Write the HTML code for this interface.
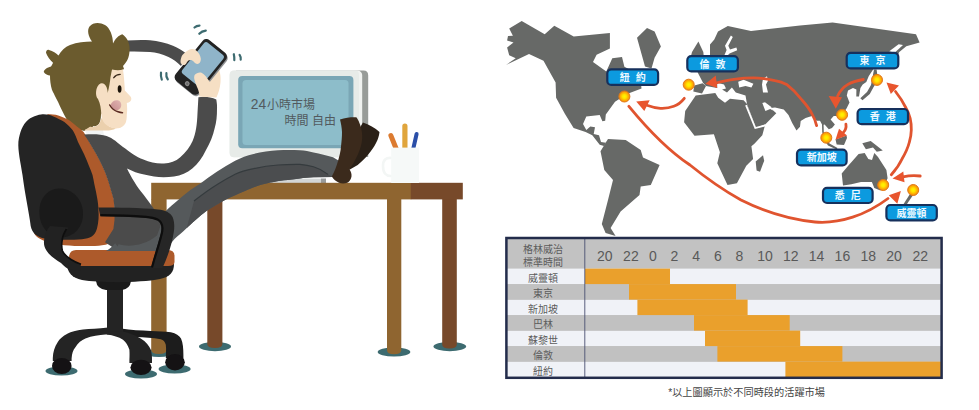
<!DOCTYPE html>
<html lang="zh-Hant">
<head>
<meta charset="utf-8">
<title>24小時市場</title>
<style>
html,body{margin:0;padding:0;background:#fff;}
body{width:979px;height:410px;overflow:hidden;position:relative;font-family:"Liberation Sans","Noto Sans CJK TC",sans-serif;}
svg{position:absolute;left:0;top:0;display:block;}
text{font-family:"Liberation Sans","Noto Sans CJK TC",sans-serif;}
.lbl rect{fill:#0c9adf;stroke:#16305c;stroke-width:2.2;}
.lbl text{fill:#eef9ff;font-weight:700;font-size:10px;text-anchor:middle;word-spacing:3.2px;}
.arr{fill:none;stroke:#e0542f;stroke-width:2.8;stroke-linecap:round;}
.ah{fill:#e8552e;}
.map{fill:#676967;}
.tt{fill:#5c5c5c;font-size:10px;text-anchor:middle;}
.th{fill:#595959;font-size:14px;text-anchor:middle;}
</style>
</head>
<body>
<svg width="979" height="410" viewBox="0 0 979 410">
<defs>
<radialGradient id="dot" cx="50%" cy="50%" r="50%">
<stop offset="0" stop-color="#fff600"/><stop offset="0.35" stop-color="#ffe400"/><stop offset="0.7" stop-color="#ffb000"/><stop offset="1" stop-color="#f0861a"/>
</radialGradient>
<linearGradient id="mouth" x1="0" y1="1" x2="1" y2="0"><stop offset="0" stop-color="#c48a8c"/><stop offset="1" stop-color="#e2b6b2"/></linearGradient>
</defs>
<rect width="979" height="410" fill="#fff"/>

<!-- ===== ILLUSTRATION ===== -->
<g id="illus">
<!-- shadows -->
<g fill="#3d6b70">
<ellipse cx="61.5" cy="371" rx="16" ry="4.6"/>
<ellipse cx="141" cy="374" rx="16" ry="4.6"/>
<ellipse cx="174.6" cy="369" rx="16" ry="4.6"/>
<ellipse cx="159" cy="353" rx="14" ry="4"/>
<ellipse cx="215" cy="346.6" rx="16" ry="4.6"/>
<ellipse cx="394" cy="352" rx="16.3" ry="4.6"/>
<ellipse cx="449.8" cy="346.6" rx="16.3" ry="4.6"/>
</g>
<!-- desk far legs -->
<path d="M207.3 195 H222.4 V344 Q222.4 348 215 348 Q207.3 348 207.3 344 Z" fill="#77492a"/>
<path d="M442.2 195 H456.8 V344.5 Q456.8 348.5 449.5 348.5 Q442.2 348.5 442.2 344.5 Z" fill="#77492a"/>
<!-- monitor -->
<path d="M236 70.6 H363.5 Q368.2 70.6 368.2 75.5 V157 H236 Z" fill="#989c99"/>
<rect x="229.6" y="70.6" width="132.6" height="86.6" rx="4.5" fill="#f0f2f0"/>
<path d="M234 70.6 H355 Q359 70.6 359 75 V157.2 H234 Q229.6 157.2 229.6 152.7 V75 Q229.6 70.6 234 70.6 Z" fill="#e7ebe8"/>
<rect x="270.6" y="178.6" width="55.4" height="4.6" fill="#d3d6d6"/>
<rect x="321" y="178.6" width="5" height="4.6" fill="#9a9c9c"/>
<rect x="238.2" y="76" width="115.2" height="72.2" rx="4" fill="#7aa6b5"/>
<rect x="242.5" y="80" width="106" height="65" rx="3.5" fill="#8dbdca"/>
<text x="250.8" y="109.2" font-size="12" fill="#525a5e"><tspan font-size="13.8">24</tspan><tspan x="266.9">小時市場</tspan></text>
<text x="284.6" y="125.3" font-size="12" fill="#525a5e">時間 自由</text>
<!-- desk top -->
<rect x="151.2" y="182.8" width="260" height="16.6" fill="#8f6530"/>
<rect x="410.8" y="182.8" width="52" height="16.6" fill="#77492a"/>
<!-- near legs -->
<path d="M151.2 199 H166.6 V350 Q166.6 354 159 354 Q151.2 354 151.2 350 Z" fill="#8f6530"/>
<path d="M387 199 H401.3 V350 Q401.3 354.3 394 354.3 Q387 354.3 387 350 Z" fill="#8f6530"/>
<!-- cup & pencils -->
<g fill="none" stroke-linecap="round">
<path d="M390.9 135.6 L396.3 149" stroke="#dc7b30" stroke-width="5"/>
<path d="M404.9 126 L404.9 149" stroke="#e0a53c" stroke-width="5.2"/>
<path d="M416.6 134 L413.2 149" stroke="#2b4fa8" stroke-width="4"/>
<path d="M391.5 158 Q383 157 383 166 Q383 176.5 391.5 176" stroke="#f3f6f5" stroke-width="2.6"/>
</g>
<rect x="391.2" y="147.6" width="27.8" height="35.4" fill="#f6f9f8"/>

<!-- chair base -->
<g fill="#242424">
<path d="M121 328.5 C131 330 141 330.6 150.8 330.9 C158 331.1 165 331.3 170.9 332.2 C176 333.3 179.3 335.5 181 338.6 C183 343 183.4 349 183.4 354.7 L183.4 358 L165.8 358 C166 353 166.3 348.5 165.8 344.7 C165 341.5 163.3 340 160.8 339.2 C153 337.8 144 337.4 135.7 337 L121 336 Z" fill="#1c1c1c"/>
<rect x="107" y="284" width="16" height="50"/>
<path d="M96 281 H131 Q130 289 122 290 H106 Q97 289 96 281 Z" fill="#1a1a1a"/>
<path d="M108 327.6 C98 328.8 90 329 83 329.6 C76 330.5 71 332 67.8 333.4 C62.5 336 59.5 339 57.8 342 C54.5 347 53 352 52.8 358 L52.8 361 L71.6 361 L71.6 358.5 C72 353.5 73 350 75.4 347.2 C78 342.8 81.5 340 85.4 338.4 C92 336 99 335 105.5 334.6 L114 334.6 Z"/>
<path d="M107 331 L123 331.5 C131 333.3 136 335.8 140.7 338.4 C146 341.5 149.5 346 150.8 349.7 C151.6 353 152 356 152 358 L152 363 L129.4 363 L129.4 359.8 C129.6 356 129.6 353 129.4 349.7 C128 345.5 126 342 123 339.7 C118.5 337 113.5 335.5 107 334.6 Z"/>
</g>
<g fill="#141214">
<ellipse cx="61.8" cy="366" rx="9.8" ry="8"/>
<ellipse cx="141" cy="367.4" rx="10.6" ry="7.6"/>
<ellipse cx="175" cy="362.2" rx="9.8" ry="8.2"/>
</g>

<!-- upper arm over head + hair -->
<path d="M127 40.5 C135 40 142 39.8 150 40.2 C158 40.7 166 43 173 45.8 C178 48 183 51 187 54 L181 66 C177 62 173 59 168.5 57 C162 54 156 52.5 150 52 C143 51.5 136 51.3 128 51.5 Z" fill="#4b4b4b"/>
<path d="M92 41.5 C88 36 87 30 89.5 26.5 C93 22 100 22 105 25 C110 28 113 36 113 43.5 C115 39 119 35 122.3 34.2 C126 36.5 129 41 129.5 47 C130 55 128 61 123 66 L124 69 C120 71.5 116 71.5 112 70.5 L111 100 L101 114.5 C101 119 100 122.5 98.6 124.3 C97 126 95 126.6 93.5 126 C92.5 127.5 91 128.2 89.5 127.8 L84.5 131 L76 129 L66.8 119.4 C63 113 60.5 107.5 58.2 102.3 C55 96 53 92 52 90 C50.5 85 50 80 50 75.5 C48 75.5 45 74 43.8 72 C44 69.5 47 67.5 51 66.5 C52 65 52.5 64 53 62.7 C50 60 47 56 46 52.7 C46.3 50 47.5 49.5 49 50 C53 51 56 53 58.5 55.5 C61 51 65 47 70 45 C77 42 85 41.5 92 41.5 Z" fill="#6b5b2e"/>
<!-- chair back -->
<path d="M47.3 114.3 C51 114.3 55 114.6 58.3 115.4 C62 116.5 65 118 68 119.6 C71 121.5 74 124 76.6 126.3 C79 128 81.5 130 83.6 132 C86 135.5 88 139 89.7 142.5 C92 146.5 94.5 150.5 96.8 154.4 C99 158.5 101 162.5 102.9 166.6 C104.7 170.6 106.3 174.7 107.8 178.8 C108.5 180.5 109 182.3 109.5 184 C111 189 112.5 194 113.8 198.8 C114.6 204 115 210 115 216 C115.2 226 115 234 113 239 C111 243 107 245 102 245.2 C92 246.8 60 246.6 47 242 C40 239.5 36 237 34 233 L60 180 Z" fill="#ad5a2b"/>
<path d="M41 114.5 C46 114 50 115 53.4 116.6 C57.5 118.5 61 120 64.4 122 C67.5 124.5 70.5 127.5 72.9 130.6 C75 134 76.5 138 78 142 C80 146 82 150 84 154 C85.8 158 87.5 162 89 166 C90.3 169 91.5 172 92.5 175 C93.2 178 93.8 181 94.3 184 C95.5 189 96.5 194 97.3 198.8 C98 203 98.4 207 98.4 210 C99 216 98.6 222 97 228.5 C95 236 90 238.5 82 239.2 C70 240 55 240 45 238.5 C37 237.3 32 233 30.7 226 C29 212 25 195 22.5 175 C20.5 162 17.8 151 18.4 141.8 C19 137 20 133 21.4 129.5 C23 125.5 25.3 122.3 28.2 119.7 C30.8 117.5 33.7 116.2 36.8 115.4 C38.3 115 39.7 114.7 41 114.5 Z" fill="#242424"/>
<path d="M59 188.5 C71 188 82.5 198 83 213 C83.3 227 74 237 62 237.3 C49 237.5 39.5 227 39.3 212 C39.2 199 47 189 59 188.5 Z" fill="#1a1a1a"/>

<!-- seat -->
<path d="M67 264 H174 C174 272 170 277 160 279 C140 283 100 283 82 280 C72 278 67 272 67 264 Z" fill="#222"/>
<path d="M76 250 H168 Q174.5 250 174.5 256 V262 Q174.5 266 168 266 H76 Q69 266 69 258 Q69 250 76 250 Z" fill="#ad5a2b"/>

<!-- body -->
<path d="M85 129.8 L103 129.8 L104 135.5 L87 136 Z" fill="#f1f3f3"/>
<!-- torso -->
<path d="M84 134.6 C95 134 101 134.5 106.6 135.9 C113 138 118 143 123 147 C130 152 136 157 143.4 159.4 C150 162 157 164 164 163.5 C170 163 176 161 180 157.4 C186 152 190 147 192.6 141 C196 133 197 125 197.5 113 L198.4 97.2 C204 96 211 96.8 216.3 99.4 C217 104 217.2 106 217 108.5 C217 116 216.5 122 214.6 128.5 C213 136 210 143 206 150 C202 158 198 164 192.3 168.5 C187 173 181 175.5 174 176.5 C167 177.5 160 177.5 154 176.5 C147 175.5 141 174 135.4 172.3 L127 168.6 C131 177 137 187 143.4 194.6 C148 201 152 206 156 212 L164 225 L162 247 L116 249.6 L105 242.2 L113.4 229 L114.5 220 C114.8 213 114.4 205 113.4 198.8 C112 194 110.6 189 109.1 184 C108.6 182.3 108 180.5 107.4 178.8 C106 174.7 104.3 170.6 102.5 166.6 C100.6 162.5 98.6 158.5 96.4 154.4 C94.1 150.5 91.6 146.5 89.3 142.5 C87.6 139.5 85.8 136.8 84 134.6 Z" fill="#4b4b4b"/>
<!-- pants -->
<path d="M115.2 243.2 L117.5 246.6 L118.6 244.2 C128 247.2 144 246.2 157 235.5 L166 210.8 C170 207 173.5 204 177 201 C181.5 197 186 193.5 190.4 190 C193.5 187.8 196.5 186 199.6 184 C205 180 211 175.5 216.8 171.8 C223 167.8 229 164 235.1 160.7 C241 157.8 247 155.6 253.5 154 C261 152 270 150.8 278 150.3 C285 150 293 150 300 150.3 C305 150.7 309 151.5 313.5 152.4 C320 153.6 327 155.3 333 157.3 L339.3 161 L338 170 L333 177 L313.5 177.2 C308 177.4 304 177.8 300 178.4 C295 179 289 179.6 284 180.3 C279 181 275 181.7 270.6 182.6 C266 183.6 262 184.6 258 185.8 C253 187.4 249 189 245 191 C241.5 192.5 238.5 193.8 235.8 195 C231 197 226.5 199 222.3 201.5 C217.5 204 213 206.8 208.8 209.6 C205 212 202 214.5 199 217 C195 220.5 191 224 186.8 228 C182.5 232 178.5 235.5 174.5 239 C171 243 168 247 165 251 L106 251 C110 248.6 113 246 115.2 243.2 Z" fill="#55595b"/>
<path d="M186.8 228 C189 219 192 209 194 201 C201 195.5 209 189.5 218 184 C224 180.5 229.5 177 235.1 174.2 C241 171.5 247 170 253.5 168.7 C261 167 270 165.6 278 165 C285 164.5 293 164.3 300 164.4 C305 164.8 309.5 165.6 313.5 166.8 C319 168.4 324 171.3 328 174.4 L333 177 L313.5 177.2 C308 177.4 304 177.8 300 178.4 C295 179 289 179.6 284 180.3 C279 181 275 181.7 270.6 182.6 C266 183.6 262 184.6 258 185.8 C253 187.4 249 189 245 191 C241.5 192.5 238.5 193.8 235.8 195 C231 197 226.5 199 222.3 201.5 C217.5 204 213 206.8 208.8 209.6 C205 212 202 214.5 199 217 C195 220.5 191 224 186.8 228 Z" fill="#4b4d4f"/>
<path d="M194 201 C201 195.5 209 189.5 218 184 C224 180.5 229.5 177 235.1 174.2 C241 171.5 247 170 253.5 168.7 C261 167 270 165.6 278 165 C285 164.5 293 164.3 300 164.4 C305 164.8 309.5 165.6 313.5 166.8 C319 168.4 324 171.3 328 174.4" fill="none" stroke="#353b3e" stroke-width="1.2"/>
<!-- shoes -->
<path d="M362.9 122.6 C369 124.5 375 128 379.5 132 C379 136 378 139.5 376.4 142.3 C374 147 371.5 151 368 154.8 C365 158.5 361.5 162 357.7 165 L349 170 L353 140 Z" fill="#2a2017"/>
<path d="M340 119.5 C345.5 117.8 351 117.2 356.7 117.4 C359.5 122 361.3 127 361.9 132 C362.6 137 362.2 142 360.8 146.5 C359.5 151 357.8 155.2 355.6 159 C353.8 162.8 351.7 166.2 349.4 169.3 C351 171.5 351.8 174 351.5 176.6 C351 179.5 349.5 181.8 347.3 182.8 C344.5 183.8 341.5 183.8 339 182.8 C336 181.5 333.5 179.3 331.8 176.6 C334.5 171.5 336.5 166.5 338 161 C339.5 156 340.6 151.5 341 146.5 C341.6 141.5 342 137 342 132 C341.8 127.5 341 123.5 340 119.5 Z" fill="#3b2a1c"/>
<!-- armrest -->
<path d="M50 226 L68.5 227.6 C65.5 231 63 235 62.4 239 C61.5 243 61.5 247 62.4 250.7 C64 254.5 67 257 71 259.5 C74 261.5 77.5 263 81 264.2 L80 271 C75 270.5 71.5 269.8 68 268.8 C65 267 63 265 61 263 C55.5 259.5 49.5 255.5 46.6 250.7 C44.5 247.5 43.7 244.5 44 241 C44.3 235.5 46.5 230 50 226 Z" fill="#222"/>
<path d="M66.5 229 C64 233 62.6 236 62.4 239 C61.5 243 61.5 247 62.4 250.7 C64 254.5 67 257 71 259.5 C74 261.5 77.5 263 81 264.2" fill="none" stroke="#0e0e0e" stroke-width="1.6"/>
<path d="M98.4 207.6 C118 207.6 140 207.9 158 209.4 C165 210 170.5 212.6 172.6 216.9 C174.5 221.5 174.6 227 173.8 232 C172 244 168 256 162.5 268 L151 268 C154 256 158 245 160.8 233.5 C162.3 227.5 162 222.8 157.5 220.4 C154 218.7 150 218.1 146 217.8 C130 216.8 115 216.4 100.4 216.2 Z" fill="#262626"/>
<path d="M100.4 215.2 C115 215.4 130 215.8 146 216.8 C150 217.1 154 217.7 157.5 219.4 C162 221.8 163.3 227 161.8 233.5 C159 245 155 256 152 267.5" fill="none" stroke="#0d0d0d" stroke-width="2.2"/>
<!-- face -->
<path d="M90 126.8 C94 127.3 97.5 126 99.5 123.5 L101.5 118 L109.7 126.8 L116 128.6 C113 130 110 130.6 106 130.6 L84 130.6 Z" fill="#ebd0ad"/>
<path d="M112 69.5 C116 70.5 120 70.5 123 69.5 C124 77 124.6 84 124.8 90.5 C126.5 92.6 129.5 95 130.9 97 C132 99.2 131 101.6 128.6 102.4 C127.8 102.7 127.2 102.8 126.8 103 C126.9 104 127 105 127 106 C127.3 109 127.2 112 126.8 114.5 C126.8 118 126.5 120.5 125.6 123 C124 126 121.5 127.8 118.2 128.3 C115 128.6 112 128 109.7 126.8 C107 125.5 105 124 103.5 121.9 C102 119.5 101.6 117 101.3 114.5 C101 109 100.5 104 98 99 C95 96 95.5 88 99 84.5 C102 82 105 84 106.5 87 C107.5 90 107.8 92 107.7 93 C109 88 110 82 110.5 77 Z" fill="#f6dfc4"/>
<ellipse cx="119.6" cy="89" rx="1.9" ry="3.7" fill="#1a1208"/>
<path d="M113.8 77.7 Q116 74.6 120.2 74.4" fill="none" stroke="#3b2a1c" stroke-width="1.4" stroke-linecap="round"/>
<path d="M110.6 104.8 C111.6 101.3 115 99.6 118 100.3 C120.8 101.2 121.8 104 121 106.8 C120.2 109.4 118 110.6 115.6 110.2 C113.4 109.2 111.6 107.3 110.6 104.8 Z" fill="url(#mouth)"/>
<path d="M109.7 105 C111.5 108.2 115 110.8 118 111.8 C119.5 112.3 121 112.6 122.5 112.7" fill="none" stroke="#5a2a22" stroke-width="1.5" stroke-linecap="round"/>
<!-- lower hand -->
<path d="M217 66 C220 70 221 76 220.5 82.2 C220 88 218.5 93 216.4 97.5 L199 96.5 C199 91 201 86 205 82 Z" fill="#f6dfc4"/>
<!-- phone -->
<g transform="rotate(39 200.7 67)">
<rect x="187.2" y="41.2" width="30" height="52.6" rx="5" fill="#8d8f92"/>
<rect x="185.7" y="40.6" width="30" height="52.6" rx="5" fill="#232323"/>
<rect x="188.3" y="43.6" width="24.8" height="40" rx="3" fill="#8fb4c9"/>
<circle cx="200.7" cy="88.4" r="2.4" fill="#8a8a8a"/>
<circle cx="200.7" cy="88.4" r="1.2" fill="#6a6a6a"/>
</g>
<!-- fingers -->
<path d="M181 58.4 C181.5 56 182.8 54.3 184.2 53.2 C186.5 51 189 49.5 191.5 49 C193.5 48.6 195.5 49.5 196.7 51 C198.8 53 200.3 55.5 200.8 58.4 C201 60.5 200.3 62.5 198.8 63.6 C197 64.5 195 63.5 193.6 61.5 C192.5 60 190 59.5 188.4 60.5 C187 61.5 186.5 63.5 185.3 64.6 C184 65.6 182 65 181 63.6 C180.3 62 180.5 60 181 58.4 Z" fill="#f6dfc4"/>
<path d="M194.6 75 C196.5 72.8 199.5 72 201.9 72.9 C204 74 205.8 76 207 78 C209 80.5 211 83.5 212.2 86.4 L214 92 L204 97 L199.8 95.7 C199 93 198.5 90.5 197.7 88.5 C196.5 85.5 195.3 83 194.6 80.2 C194 78.3 194 76.5 194.6 75 Z" fill="#f6dfc4"/>
<!-- motion marks -->
<g fill="none" stroke="#3d6b70" stroke-width="2.2" stroke-linecap="round">
<path d="M194.5 27.5 Q196.5 25.6 199.5 25.6"/>
<path d="M199.3 33.8 Q201.8 31 205.8 30.6"/>
<path d="M233.8 54.2 Q234.6 57.5 234.3 60.2"/>
<path d="M239.6 54.8 Q241.2 57.2 240.7 59.6"/>
<path d="M161 72.6 Q160.5 76 161.8 79.6"/>
<path d="M166.4 73.2 Q165.8 76.4 167.8 79.4"/>
</g>
</g>

<!-- ===== MAP ===== -->
<g id="map">
<g class="map">
<!-- North America -->
<path d="M521.7 20.9 L544.7 34.2 L554.3 25.7 L573.7 36.6 L609.9 33 L609.9 48.6 L596.6 54.7 L593 61.9 L606.3 71.6 L612.3 58.3 L622 57.1 L624.4 66.8 L640 75 L641.5 88.5 L627 94 L615 101.7 L605.8 114.5 L605.2 120.8 L602.4 121.2 L599.7 114.9 L586.3 116.5 L583 123.9 L586.3 129.9 L590.3 126.5 L595 127.2 L593.7 133.9 L599 135.3 L601 142 L605.8 142.7 L608.5 139 L604 146 L599.7 144.7 L592.3 135.3 L585.6 131.9 L573.6 127.9 L565 114 L556.1 97.7 L555.6 82.5 L543.5 60.7 L529 54 L506 65 L515.7 58.3 L509.2 55.3 L507.1 47.4 L513.5 42.5 L507.1 40.6 L508 36 L512.9 35.7 L509.2 28.4 Z"/>
<!-- Greenland -->
<path d="M647 28 L654.6 31.4 L660.9 46.5 L654.6 57.8 L651.5 68.5 L645 66.5 L637 37.7 Z"/>
<!-- South America -->
<path d="M608 139 L625.7 140 L640.7 150 L643 157.6 L659.6 165 L650.8 185 L640.7 186.5 L639.5 195 L620.6 211.6 L610.6 228 L615.6 236 L605.6 233 L601.8 224 L608 200 L613 180 L604.3 170 L600.5 151.3 Z"/>
<!-- Africa -->
<path d="M695.7 95.4 L715.3 93 L718.2 97.8 L725 102.7 L730 98.8 L743.6 100.3 L747 104 L756 128 L764.8 126 L762.3 135.2 L754.4 143.8 L751.4 146.2 L753.1 159 L746.3 165.8 L736.9 183.2 L727.5 185 L717.3 163.3 L719.9 152.2 L713.9 134.3 L694.5 135.8 L684.1 122.3 L685.2 111 Z"/>
<path d="M763 155.3 L764.2 160.7 L760 171.8 L756.6 170.6 L755.7 161.6 Z"/>
<!-- UK / Iberia -->
<path d="M698.4 41.4 L703.3 52 L704 58 L690.5 58 L692 52 Z"/>
<path d="M694.3 85.6 L702.6 83.2 L706 86 L702 93.4 L693.3 91.5 Z"/>
<!-- Eurasia -->
<path d="M710 58 L710 44.5 L714.3 39.6 L718 31.6 L727.8 26.1 L751 31 L800 25.5 L832.6 22.6 L916 34.2 L919.6 42.6 L906.3 46.2 L899 52.3 L896 62 L873.5 69 L868.8 75.9 L866.3 82 L862.7 84.4 L860.4 88 L859 96.5 L856.3 96.5 L856.4 89.5 L853 88 L848 90.5 L846.8 95.4 L849.5 102.4 L846.5 108.5 L842 115 L838 116 L833.7 115.9 L830.6 119.5 L834.9 124.4 L832 128 L828.8 129.3 L824.6 124.6 L823.6 124.8 L823.8 132 L826.3 137.8 L824 137.8 L822.2 132.3 L822 124.4 L820 120.7 L816.6 120.7 L812 116 L805.6 118 L800.7 121 L800 126.7 L796.5 130.4 L792.2 123 L788.5 115 L783.7 109.6 L775 107.6 L770.5 108 L776.3 113.3 L765.4 124.3 L756 128 L747 104 L745.5 95.4 L735.8 92.5 L731.9 87.6 L727 92.5 L722.1 89.5 L726 88.6 L724 84.6 L717.2 82.7 L717.2 88.1 L706 86.1 L703 82.7 L697.7 72.4 L697.7 60 Z"/>
<!-- Japan -->
<path d="M874 69.5 L876.6 69.5 L878 80 L873.6 87 L869.8 94 L862.5 100.2 L860.3 98.2 L867 92 L871 85 Z"/>
<!-- SE Asia islands -->
<path d="M835.5 139.6 L846.5 135.4 L847 138 L844 145 L836.7 144.5 Z"/>
<path d="M826 138.5 L829.5 143.5 L837.5 148 L836.6 149.6 L828 145.5 L824.4 140 Z"/>
<path d="M862.3 143.3 L870.7 140.9 L882.8 150.5 L876.8 151.7 L873 147.5 L865.9 149.3 Z"/>
<!-- Australia -->
<path d="M847.8 166.2 L858.6 154 L864.7 153 L868.3 159 L872 160 L874.3 153 L878 157 L886.4 169.9 L887.6 178.3 L884 186 L880.4 190.4 L874.3 188 L871.9 182 L861 182 L851.4 184.3 L843 185.6 L841.7 173.5 Z"/>
<!-- NZ -->
<path d="M912.5 190 L915.5 191.5 L906.3 205 L903.3 204.5 Z"/>
</g>
<!-- seas -->
<g fill="#fff">
<path d="M730.9 35.5 L732.8 37 L728.3 45.7 L730 49.5 L736.4 47.6 L737.2 50.3 L729.5 53.5 L727 56 L724.5 55 L726.6 50 L725 45.7 Z"/>
<path d="M738.2 81.7 L743.6 79.8 L753.4 83.7 L751.4 87.6 L745.5 86 L739.2 87.6 Z"/>
<path d="M763 78.8 L767 76.3 L768 80.7 L766 84.6 L768 92.5 L763 92.5 L762 84.6 Z"/>
<path d="M762.3 103 L765.4 110.9 L770.2 109 L773 110.5 L771 106.8 L765 102.2 Z"/>
<path d="M889.3 51.2 L898.6 44.2 L903 45 L894.6 52.8 Z"/>
</g>
<path d="M746 105.2 L755.3 128 L765.2 125.4" fill="none" stroke="#fff" stroke-width="1.8"/>
<!-- arrows -->
<path class="arr" d="M684.3 98.3 C681 102.5 677.5 105 673.8 106.3 C669.5 108 665 108.5 660.4 108.3 C656 108 651.5 107 646 105"/>
<path class="ah" d="M636.2 101.6 L649.7 100.3 L644.3 111 Z"/>
<path class="arr" d="M628.9 106.3 C650 132 672 153 690 165 C706 178 723 190 741 200 C765 212 790 219.5 815 222 C840 224 866 215 888 198.5"/>
<path class="ah" d="M900.9 190.9 L888.8 195.2 L897.3 203.7 Z"/>
<path class="arr" d="M816.6 125.6 C815.5 121 813.8 117 811.7 113.4 C809 108 805.5 104 802 100 C797 93.5 792 88.5 786.6 84.4 C783 82.6 779 81.4 775 80.7 C768 79 760.5 78 753.4 77.9 C746.5 77.9 740 78.5 733.8 79.3 C728 80 722 81.5 716 83"/>
<path class="ah" d="M705.5 83.7 L715.8 75.4 L717.2 88 Z"/>
<path class="arr" d="M863.3 79.5 C857.5 80.5 852 82 848 84.4 C843.5 87 840 91 837.6 96"/>
<path class="ah" d="M835.8 108.8 L828.6 96 L842 97.2 Z"/>
<path class="arr" d="M845.9 124.2 C846.4 127 845.6 130 843.4 132.4" style="stroke-width:2.8"/>
<path class="ah" d="M835.5 139.8 L839 128.7 L847 135.4 Z"/>
<path class="arr" d="M891.3 174.7 C896 169.5 899.5 164.5 902 159 C905.5 153 908 147.5 909.4 142 C910.6 138 911.2 134 911.3 130 C911.5 122 909.5 114 906 108 C903 102 899.5 96.5 895.5 91.5"/>
<path class="ah" d="M886.5 82.5 L899 85.6 L890.8 94 Z"/>
<path class="arr" d="M920.2 176 C914.5 175.2 908.5 175.6 903 176.8"/>
<path class="ah" d="M892.5 178.4 L903.3 171.5 L904.5 182.3 Z"/>
<!-- dots -->
<g fill="url(#dot)" stroke="#e37a14" stroke-width="1">
<circle cx="624.4" cy="96.5" r="5.5"/>
<circle cx="688.7" cy="84.7" r="5.5"/>
<circle cx="877" cy="79.9" r="5.5"/>
<circle cx="842.1" cy="114.8" r="5.5"/>
<circle cx="826.3" cy="137.7" r="5.5"/>
<circle cx="883.2" cy="185" r="5.5"/>
<circle cx="913.2" cy="190" r="5.5"/>
</g>
<!-- labels -->
<g class="lbl">
<rect x="607.3" y="69.3" width="50.8" height="15.6" rx="4"/><text x="632.7" y="80.9">紐 約</text>
<rect x="687.3" y="56.2" width="50.6" height="15.2" rx="4"/><text x="712.6" y="67.6">倫 敦</text>
<rect x="846.7" y="52.8" width="51.6" height="15.6" rx="4"/><text x="872.5" y="64.4">東 京</text>
<rect x="857.6" y="109" width="50.4" height="15.2" rx="4"/><text x="882.8" y="120.4">香 港</text>
<rect x="797" y="149.6" width="49.6" height="15.8" rx="4"/><text x="821.8" y="161.2">新加坡</text>
<rect x="823" y="187.8" width="49.6" height="15.2" rx="4"/><text x="847.8" y="199.2">悉 尼</text>
<rect x="886.4" y="205" width="50.4" height="15.4" rx="4"/><text x="911.6" y="216.5">威靈頓</text>
</g>
</g>

<!-- ===== TABLE ===== -->
<g id="table">
<rect x="506.4" y="238" width="435.2" height="139.8" fill="#c2c2c2"/>
<g fill="#f0f2f7">
<rect x="507" y="268.6" width="434" height="15.5"/>
<rect x="507" y="299.6" width="434" height="15.5"/>
<rect x="507" y="330.6" width="434" height="15.5"/>
<rect x="507" y="361.6" width="434" height="15.5"/>
</g>
<g fill="#c1c1c1">
<rect x="507" y="284.1" width="434" height="15.5"/>
<rect x="507" y="315.1" width="434" height="15.5"/>
<rect x="507" y="346.1" width="434" height="15.5"/>
</g>
<g fill="#eaa02c">
<rect x="585" y="268.6" width="85" height="15.5"/>
<rect x="629" y="284.1" width="107" height="15.5"/>
<rect x="637.4" y="299.6" width="110.2" height="15.5"/>
<rect x="694" y="315.1" width="95.7" height="15.5"/>
<rect x="705" y="330.6" width="95.2" height="15.5"/>
<rect x="717.4" y="346.1" width="125" height="15.5"/>
<rect x="785.4" y="361.6" width="155.6" height="15.5"/>
</g>
<line x1="584.8" y1="238" x2="584.8" y2="378" stroke="#4a5070" stroke-width="0.9"/>
<rect x="506.4" y="238" width="435.2" height="139.8" fill="none" stroke="#232c4b" stroke-width="2.5"/>
<g class="tt">
<text x="543" y="253">格林威治</text>
<text x="543" y="265.6">標準時間</text>
</g>
<g class="th">
<text x="604.8" y="261.2">20</text><text x="630.9" y="261.2">22</text><text x="653" y="261.2">0</text><text x="674.5" y="261.2">2</text><text x="696.2" y="261.2">4</text><text x="717.9" y="261.2">6</text><text x="739.4" y="261.2">8</text><text x="765" y="261.2">10</text><text x="790.8" y="261.2">12</text><text x="816.6" y="261.2">14</text><text x="842.4" y="261.2">16</text><text x="868.2" y="261.2">18</text><text x="894.1" y="261.2">20</text><text x="920.3" y="261.2">22</text>
</g>
<g class="tt">
<text x="543" y="281.5">威靈頓</text>
<text x="543" y="297.0">東京</text>
<text x="543" y="312.5">新加坡</text>
<text x="543" y="328.0">巴林</text>
<text x="543" y="343.5">蘇黎世</text>
<text x="543" y="359.0">倫敦</text>
<text x="543" y="374.5">紐約</text>
</g>
<text x="668.2" y="395.8" font-size="10.2" fill="#444">*以上圖顯示於不同時段的活躍市場</text>
</g>
</svg>
</body>
</html>
